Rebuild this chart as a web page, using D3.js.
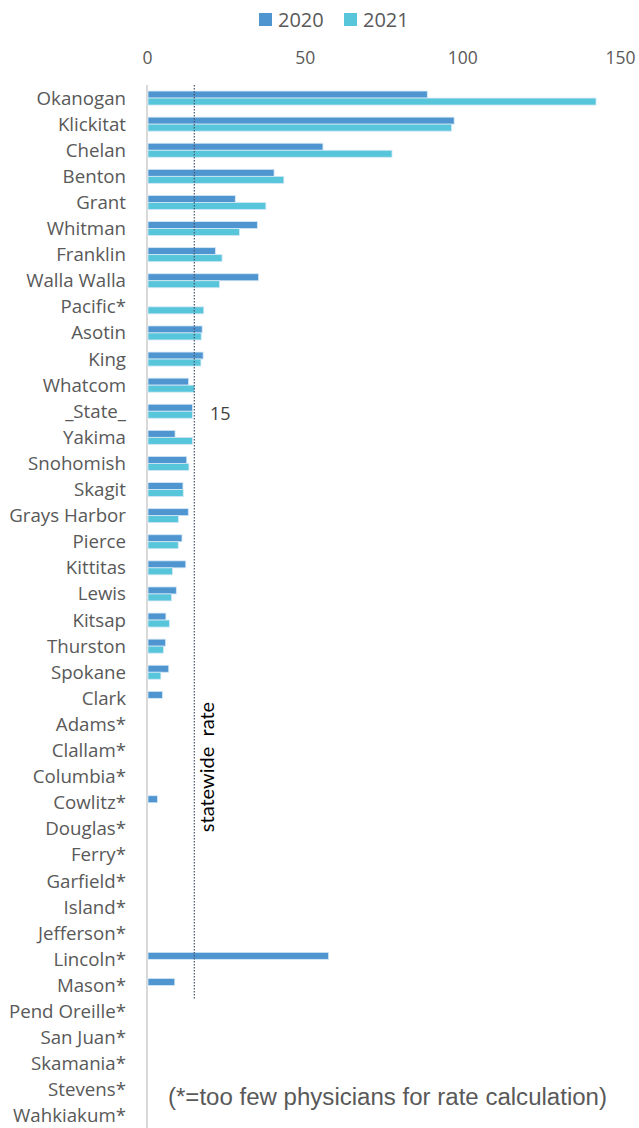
<!DOCTYPE html>
<html><head><meta charset="utf-8">
<script src="https://cdnjs.cloudflare.com/ajax/libs/d3/7.8.5/d3.min.js"></script>
<style>body{margin:0;background:#fff}svg{display:block}</style>
</head><body><svg id="c" width="639" height="1128"></svg>
<script>
const categories = ["Okanogan","Klickitat","Chelan","Benton","Grant","Whitman","Franklin","Walla Walla","Pacific*","Asotin","King","Whatcom","_State_","Yakima","Snohomish","Skagit","Grays Harbor","Pierce","Kittitas","Lewis","Kitsap","Thurston","Spokane","Clark","Adams*","Clallam*","Columbia*","Cowlitz*","Douglas*","Ferry*","Garfield*","Island*","Jefferson*","Lincoln*","Mason*","Pend Oreille*","San Juan*","Skamania*","Stevens*","Wahkiakum*"];
const values2020 = [88.9,97.4,55.8,40.3,28.0,35.0,21.7,35.4,null,17.5,17.8,13.2,14.4,8.9,12.6,11.4,13.1,11.1,12.3,9.3,6.0,5.9,6.9,4.9,null,null,null,3.3,null,null,null,null,null,57.6,8.8,null,null,null,null,null];
const values2021 = [142.4,96.6,77.7,43.4,37.7,29.3,23.8,23.0,18.0,17.2,17.1,15.1,14.4,14.4,13.3,11.5,10.0,9.9,8.1,7.8,7.1,5.2,4.4,null,null,null,null,null,null,null,null,null,null,null,null,null,null,null,null,null];
const seriesNames = ["2020","2021"];
const tickValues = [0,50,100,150];
const statewideRate = 15;
const statewideLabel = "statewide  rate";
const footnote = "(*=too few physicians for rate calculation)";

const colors = {"2020":"#4F96D1","2021":"#57C6DB"};
const svg = d3.select("#c");
const x = d3.scaleLinear().domain([0,150]).range([147,620]);
const y = d3.scaleBand().domain(categories).range([85,1129]);
const groupH = 14;
const sub = d3.scaleBand().domain(seriesNames).range([0,groupH]);

// axis line
svg.append("line").attr("x1",x(0)).attr("x2",x(0)).attr("y1",85).attr("y2",1128)
  .attr("stroke","#d9d9d9").attr("stroke-width",2);

// top axis labels
const ax = svg.append("g").attr("transform","translate(0,64)")
  .call(d3.axisTop(x).tickValues(tickValues).tickSize(0).tickPadding(0));
ax.select(".domain").remove();
ax.selectAll("text").attr("font-family","Open Sans").attr("font-size",17.5).attr("fill","#595959");

// category labels
svg.append("g").selectAll("text").data(categories).join("text")
  .attr("x",126).attr("y",d=>y(d)+y.bandwidth()/2).attr("dy","0.35em")
  .attr("text-anchor","end").attr("font-family","Open Sans").attr("font-size",18.7).attr("fill","#595959")
  .text(d=>d);

// bars
const rows = [];
categories.forEach((c,i)=>{
  if(values2020[i]!=null) rows.push({c,s:"2020",v:values2020[i]});
  if(values2021[i]!=null) rows.push({c,s:"2021",v:values2021[i]});
});
svg.append("g").selectAll("rect").data(rows).join("rect")
  .attr("x",x(0)+1).attr("y",d=>y(d.c)+y.bandwidth()/2-groupH/2+sub(d.s))
  .attr("width",d=>x(d.v)-x(0)-1).attr("height",sub.bandwidth())
  .attr("fill",d=>colors[d.s]).attr("stroke","#d6e8f5").attr("stroke-width",0.8);

// statewide line
svg.append("line").attr("x1",x(statewideRate)).attr("x2",x(statewideRate))
  .attr("y1",85).attr("y2",y("Mason*")+y.bandwidth())
  .attr("stroke","#44546A").attr("stroke-width",1.2).attr("stroke-dasharray","1.5,1.5");

svg.append("text").attr("x",210).attr("y",y("_State_")+y.bandwidth()/2+2).attr("dy","0.35em")
  .attr("font-family","Open Sans").attr("font-size",18).attr("fill","#404040").text(statewideRate);

svg.append("text").attr("transform",`translate(214,767) rotate(-90)`)
  .attr("text-anchor","middle").attr("font-family","Lato").attr("font-size",20).attr("fill","#000")
  .style("white-space","pre").text(statewideLabel);

// footnote
svg.append("text").attr("x",168).attr("y",1097).attr("dy","0.35em")
  .attr("font-family","Liberation Sans").attr("font-size",23).attr("fill","#595959")
  .attr("textLength",439).attr("lengthAdjust","spacingAndGlyphs").text(footnote);

// legend
const leg = svg.append("g");
const legX = {"2020":259,"2021":344};
seriesNames.forEach(s=>{
  leg.append("rect").attr("x",legX[s]).attr("y",13).attr("width",13).attr("height",13).attr("fill",colors[s]);
  leg.append("text").attr("x",legX[s]+19).attr("y",19.5).attr("dy","0.35em")
    .attr("font-family","Open Sans").attr("font-size",20).attr("fill","#595959").text(s);
});
</script></body></html>
